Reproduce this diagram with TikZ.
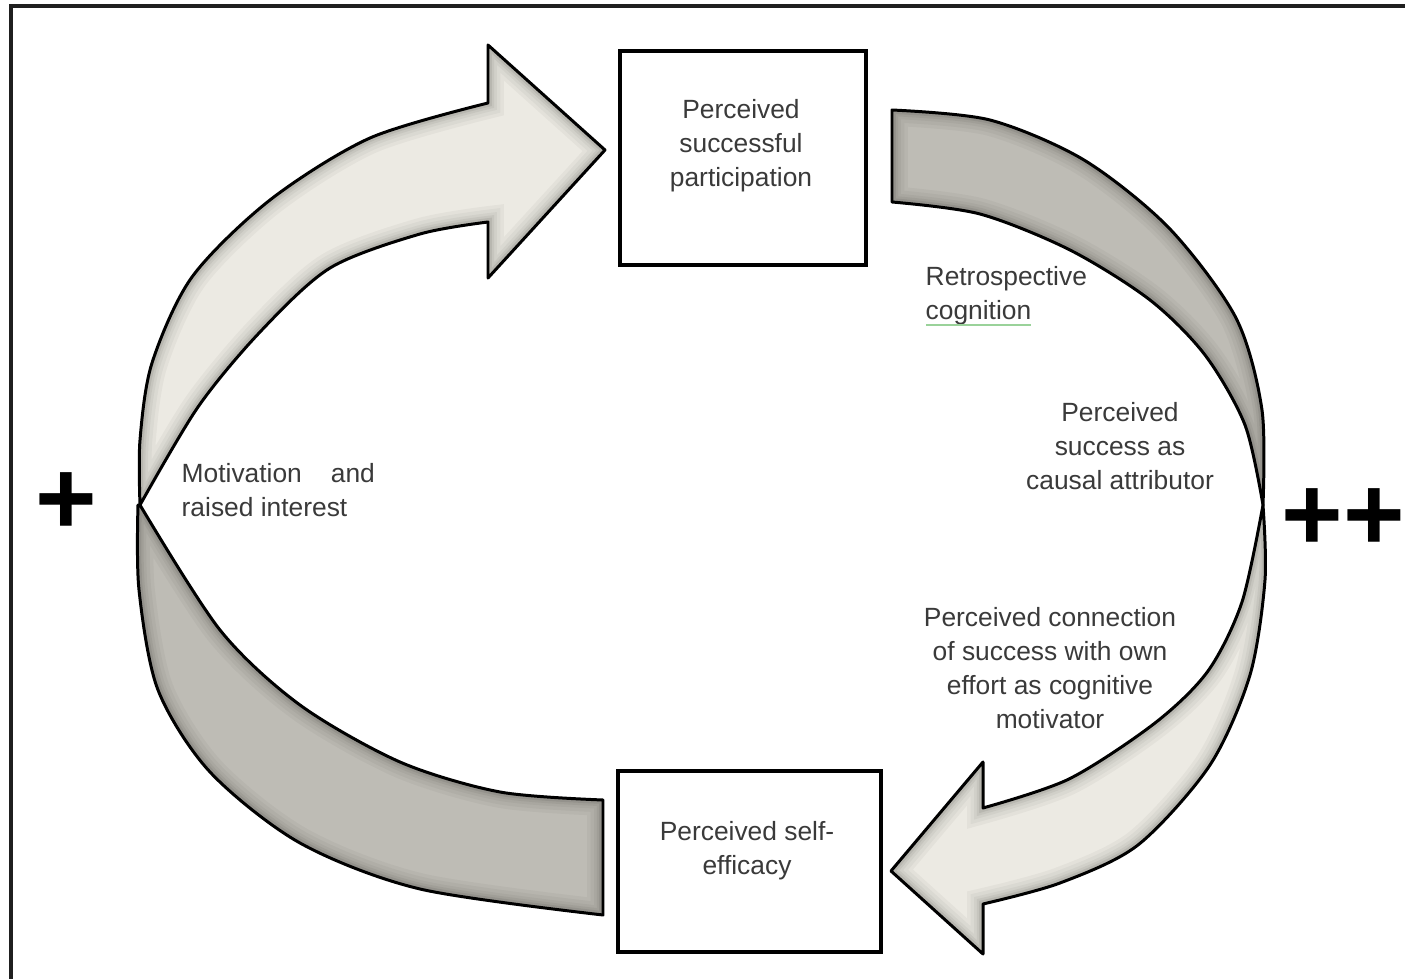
\documentclass[tikz,border=0pt]{standalone}
\usepackage{fontspec}
\setmainfont{Liberation Sans}
\definecolor{lightfill}{HTML}{ECEAE3}
\definecolor{darkfill}{HTML}{BEBCB5}
\definecolor{txtgray}{HTML}{3A3A3A}
\definecolor{spellgreen}{HTML}{9AD29A}
\newcommand\drawcurvedarrow[2]{%
  \fill[#2, use path=#1];
  \begin{scope}
    \clip[use path=#1];
    \draw[black, opacity=0.035, line width=9pt, use path=#1];
    \draw[black, opacity=0.035, line width=7pt, use path=#1];
    \draw[black, opacity=0.04, line width=5pt, use path=#1];
    \draw[black, opacity=0.05, line width=3.5pt, use path=#1];
    \draw[black, opacity=0.07, line width=2.2pt, use path=#1];
  \end{scope}
  \draw[outline, use path=#1];
}
\begin{document}
\begin{tikzpicture}[x=0.01cm, y=-0.01cm,
  boxnode/.style={draw=black, line width=1pt, fill=white, inner sep=0pt},
  lbl/.style={text=txtgray, font=\fontsize{7.5}{9.7}\selectfont, align=center, inner sep=0pt},
  outline/.style={draw=black, line width=0.85pt, line join=round},
  plusmark/.style={text=black, font=\bfseries\fontsize{30}{30}\selectfont, inner sep=0pt},
  frameline/.style={draw=black!88, line width=1.1pt},
]
\useasboundingbox (0,0) rectangle (1405,979);
\fill[white] (0,0) rectangle (1405,979);
\draw[frameline] (11,990) -- (11,6) -- (1415,6);

% top-left light arrow
\path[save path=\pA]
  plot[smooth] coordinates {(140,505) (140,440) (152,363) (192,277) (270,200) (370,138) (488,103)}
  -- (488,45) -- (605,150) -- (488,278)
  -- plot[smooth] coordinates {(488,222) (420,234) (330,268) (260,332) (198,407) (140,505)}
  -- cycle;
% bottom-left dark arrow
\path[save path=\pB]
  plot[smooth] coordinates {(138,505) (139,590) (158,690) (210,772) (300,843) (420,889) (603,915)}
  -- (603,800)
  -- plot[smooth] coordinates {(603,800) (500,792) (400,762) (300,705) (220,630) (140,505)}
  -- cycle;
% top-right dark arrow
\path[save path=\pC]
  plot[smooth] coordinates {(892,110) (990,120) (1084,160) (1169,228) (1236,318) (1262,410) (1263,505)}
  -- plot[smooth] coordinates {(1263,505) (1245,425) (1205,355) (1150,300) (1070,250) (980,214) (892,202)}
  -- cycle;
% bottom-right light arrow
\path[save path=\pD]
  plot[smooth] coordinates {(1263,505) (1265,580) (1250,675) (1210,765) (1138,845) (1060,883) (983,904)}
  -- (983,954) -- (891,871) -- (983,762)
  -- plot[smooth] coordinates {(983,808) (1069,779) (1155,723) (1208,671) (1242,602) (1263,505)}
  -- cycle;

\drawcurvedarrow{\pB}{darkfill}
\drawcurvedarrow{\pA}{lightfill}
\drawcurvedarrow{\pC}{darkfill}
\drawcurvedarrow{\pD}{lightfill}

\node[boxnode, minimum width=2.46cm, minimum height=2.14cm] (topbox) at (743,158) {};
\node[boxnode, minimum width=2.63cm, minimum height=1.81cm] (botbox) at (749.5,861.5) {};

\node[lbl] (toptxt) at (741,146) {Perceived\\successful\\participation};
\node[lbl] (bottxt) at (747,851) {Perceived self-\\efficacy};
\node[lbl, anchor=west, align=left] (retro) at (925,296) {Retrospective\\cognition};
\draw[spellgreen, line width=0.5pt] (926,325) -- (1031,325);
\node[lbl] (attr) at (1120,446) {Perceived\\success as\\causal attributor};
\node[lbl, anchor=west, align=left] (motiv) at (181,490) {Motivation\hspace{0.29cm}and\\raised interest};
\node[lbl] (conn) at (1050,668) {Perceived connection\\of success with own\\effort as cognitive\\motivator};
\node[plusmark] (plusL) at (66,504) {+};
\node[plusmark, anchor=west] (plusR) at (1281,520) {++};
\end{tikzpicture}
\end{document}
